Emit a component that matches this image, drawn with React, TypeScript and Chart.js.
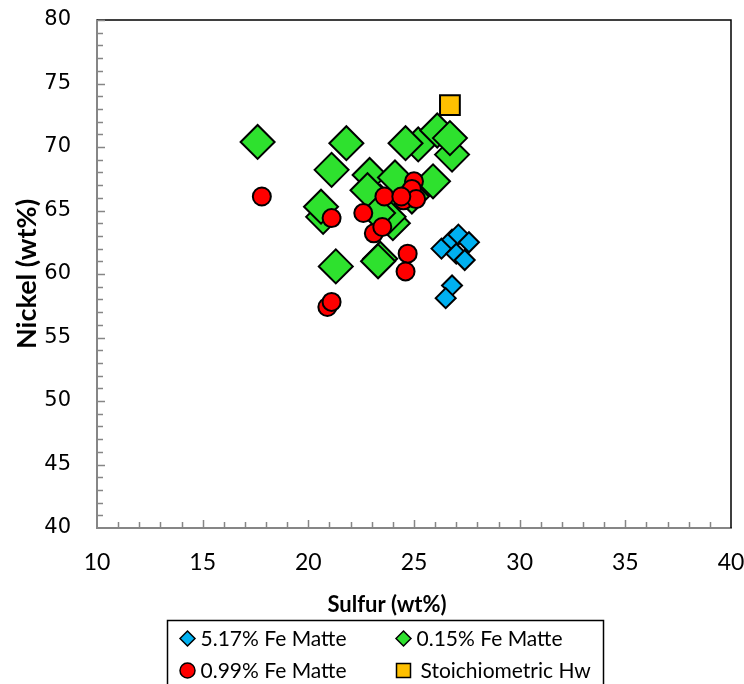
import React, { useEffect, useRef } from 'react';
import { Chart, registerables } from 'chart.js';

Chart.register(...registerables);

// ---- Data ----
const xTitle = 'Sulfur (wt%)';
const yTitle = 'Nickel (wt%)';
const seriesLabels = ['5.17% Fe Matte', '0.15% Fe Matte', '0.99% Fe Matte', 'Stoichiometric Hw'];

const xMin = 10;
const xMax = 40;
const yMin = 40;
const yMax = 80;
const majorStep = 5;
const minorStep = 1;

// 5.17% Fe Matte
const fe517Sulfur = [26.3, 26.8, 27.1, 27.6, 27.0, 27.4, 26.8, 26.5];
const fe517Nickel = [62.0, 62.7, 63.1, 62.5, 61.6, 61.1, 59.1, 58.1];

// 0.15% Fe Matte
const fe015Sulfur = [25.2, 24.6, 26.1, 26.8, 26.7, 17.6, 21.8, 21.1, 25.9, 22.9, 24.1, 24.9, 23.4, 22.8, 24.0, 23.8, 23.3, 20.7, 20.6, 23.4, 23.3, 21.3];
const fe015Nickel = [70.2, 70.3, 71.3, 69.4, 70.7, 70.4, 70.3, 68.2, 67.3, 67.8, 67.6, 66.1, 65.7, 66.6, 64.0, 64.5, 64.8, 64.5, 65.3, 61.2, 61.0, 60.6];

// 0.99% Fe Matte
const fe099Sulfur = [17.8, 21.1, 22.6, 23.6, 24.5, 25.0, 24.9, 25.1, 24.4, 23.1, 23.5, 24.7, 24.6, 20.9, 21.1];
const fe099Nickel = [66.1, 64.4, 64.8, 66.1, 65.8, 67.3, 66.7, 65.9, 66.1, 63.2, 63.7, 61.6, 60.2, 57.4, 57.8];

// Stoichiometric Hw
const hwSulfur = [26.7];
const hwNickel = [73.3];

const toPoints = (xs: number[], ys: number[]) => xs.map((x, i) => ({ x, y: ys[i] }));

const FONT_MAIN = 'Lato';
const GRAY = '#868686';

function drawMarker(ctx: CanvasRenderingContext2D, style: string, x: number, y: number, r: number, fill: string) {
  ctx.beginPath();
  if (style === 'rectRot') {
    ctx.moveTo(x - r, y);
    ctx.lineTo(x, y - r);
    ctx.lineTo(x + r, y);
    ctx.lineTo(x, y + r);
    ctx.closePath();
  } else if (style === 'circle') {
    ctx.arc(x, y, r, 0, Math.PI * 2);
  } else {
    ctx.rect(x - r, y - r, 2 * r, 2 * r);
  }
  ctx.fillStyle = fill;
  ctx.fill();
  ctx.lineWidth = 1.5;
  ctx.strokeStyle = '#000';
  ctx.stroke();
}

const axisDecor = {
  id: 'axisDecor',
  beforeDatasetsDraw(chart: any) {
    const { ctx, chartArea } = chart;
    const { left, right, top, bottom } = chartArea;
    const xs = chart.scales.x;
    const ys = chart.scales.y;
    ctx.save();
    // top & right plot border
    ctx.strokeStyle = '#000';
    ctx.lineWidth = 1.5;
    ctx.beginPath();
    ctx.moveTo(left, top);
    ctx.lineTo(right, top);
    ctx.lineTo(right, bottom);
    ctx.stroke();
    // inside tick marks
    ctx.strokeStyle = GRAY;
    ctx.lineWidth = 1.5;
    ctx.beginPath();
    for (let v = xMin + minorStep; v < xMax; v += minorStep) {
      const px = Math.round(xs.getPixelForValue(v)) + 0.5;
      const len = v % majorStep === 0 ? 8 : 6;
      ctx.moveTo(px, bottom);
      ctx.lineTo(px, bottom - len);
    }
    for (let v = yMin + minorStep; v <= yMax; v += minorStep) {
      const py = Math.round(ys.getPixelForValue(v)) + 0.5;
      const len = v % majorStep === 0 ? 8 : 6;
      ctx.moveTo(left, py);
      ctx.lineTo(left + len, py);
    }
    ctx.stroke();
    ctx.restore();
  },
};

// x-axis title and legend box, both centred under the whole chart (as in the source)
const bottomBlock = {
  id: 'bottomBlock',
  afterDraw(chart: any) {
    const { ctx, width, chartArea } = chart;
    const cx = width / 2;
    ctx.save();
    // axis title
    ctx.fillStyle = '#000';
    ctx.font = `bold 22px ${FONT_MAIN}`;
    ctx.textAlign = 'center';
    ctx.textBaseline = 'middle';
    ctx.fillText(xTitle, cx + 2, chartArea.bottom + 77);

    // legend
    const boxW = 436;
    const boxH = 72;
    const left = Math.round(cx - boxW / 2) + 0.5;
    const top = Math.round(chartArea.bottom + 92) + 0.5;
    ctx.strokeStyle = '#000';
    ctx.lineWidth = 1.5;
    ctx.strokeRect(left, top, boxW, boxH);
    chart.data.datasets.forEach((ds: any, i: number) => {
      const col = i % 2;
      const row = Math.floor(i / 2);
      const mx = left + 20 + col * 216;
      const my = top + 18 + row * 32;
      const isRect = ds.pointStyle === 'rect';
      drawMarker(ctx, ds.pointStyle, mx, my, isRect ? 7 : 7.5, ds.backgroundColor);
      ctx.fillStyle = '#000';
      ctx.font = `21px ${FONT_MAIN}`;
      ctx.textBaseline = 'middle';
      ctx.textAlign = 'left';
      ctx.fillText(ds.label, mx + (isRect ? 17 : 13), my + 1);
    });
    ctx.restore();
  },
};

export default function App() {
  const ref = useRef<HTMLCanvasElement>(null);

  useEffect(() => {
    if (!ref.current) return;
    const chart = new Chart(ref.current, {
      type: 'scatter',
      data: {
        datasets: [
          {
            label: seriesLabels[0],
            data: toPoints(fe517Sulfur, fe517Nickel),
            pointStyle: 'rectRot',
            pointRadius: 10,
            backgroundColor: '#00b0f0',
            borderColor: '#000',
            borderWidth: 2,
            order: 2,
          },
          {
            label: seriesLabels[1],
            data: toPoints(fe015Sulfur, fe015Nickel),
            pointStyle: 'rectRot',
            pointRadius: 17,
            backgroundColor: '#2ee12e',
            borderColor: '#000',
            borderWidth: 2,
            order: 3,
          },
          {
            label: seriesLabels[2],
            data: toPoints(fe099Sulfur, fe099Nickel),
            pointStyle: 'circle',
            pointRadius: 9,
            backgroundColor: '#ff0000',
            borderColor: '#000',
            borderWidth: 2,
            order: 1,
          },
          {
            label: seriesLabels[3],
            data: toPoints(hwSulfur, hwNickel),
            pointStyle: 'rect',
            pointRadius: 14,
            backgroundColor: '#ffc000',
            borderColor: '#000',
            borderWidth: 2,
            order: 0,
          },
        ] as any,
      },
      options: {
        animation: false,
        responsive: false,
        events: [],
        layout: { autoPadding: false, padding: { left: 0, right: 39, top: 20, bottom: 64 } },
        plugins: {
          legend: { display: false },
          tooltip: { enabled: false },
        },
        scales: {
          x: {
            type: 'linear',
            min: xMin,
            max: xMax,
            ticks: {
              stepSize: majorStep,
              color: '#000',
              font: { family: FONT_MAIN, size: 23 },
              padding: 21,
            },
            grid: { display: false, drawTicks: false, tickLength: 0 },
            border: { display: true, color: GRAY, width: 2 },
            title: { display: false, text: xTitle },
            afterFit: (s: any) => {
              s.height = 92;
            },
          },
          y: {
            type: 'linear',
            min: yMin,
            max: yMax,
            ticks: {
              stepSize: majorStep,
              color: '#000',
              font: { family: 'DejaVu Sans', size: 21 },
              padding: 1,
            },
            grid: {
              display: true,
              drawOnChartArea: false,
              drawTicks: true,
              tickLength: 25,
              tickColor: 'rgba(0,0,0,0)',
            },
            border: { display: true, color: GRAY, width: 2 },
            title: {
              display: true,
              text: yTitle,
              color: '#000',
              font: { family: FONT_MAIN, size: 27, weight: 'bold' },
              padding: { top: 11, bottom: 0 },
            },
            afterFit: (s: any) => {
              s.width = 97;
            },
          },
        },
      } as any,
      plugins: [axisDecor, bottomBlock],
    });
    return () => chart.destroy();
  }, []);

  return (
    <div
      style={{
        position: 'absolute',
        left: 0,
        top: 0,
        width: 744,
        height: 684,
        overflow: 'hidden',
        background: '#fff',
      }}
    >
      <canvas ref={ref} width={770} height={684} style={{ display: 'block' }} />
    </div>
  );
}
